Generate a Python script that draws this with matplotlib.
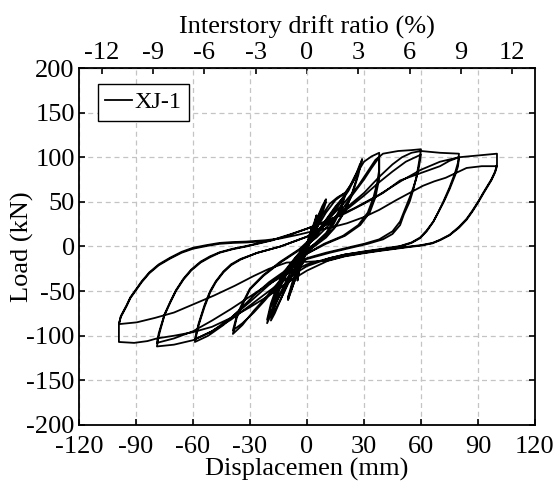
import numpy as np
import matplotlib
matplotlib.use("Agg")
import matplotlib.pyplot as plt

# small cycles (about 2.5, 5, 10, 20 mm)
small_disp = [0, 1, 2, 2.5, 2, 1, 0, -1, -2, -2.5, -2, -1, 0, 1, 2, 2.5, 2, 1, 0, -1, -2.5, -2, -1, 0,
              2, 4, 5, 4, 2, 0, -2, -4, -5, -4, -2, 0, 2, 4, 5, 4, 2, 0, -2, -4, -5, -4, -2, 0,
              3, 6, 8, 10, 8, 5, 2, 0, -3, -6, -8, -10, -8, -5, -2, 0,
              3, 6, 8, 10, 8, 5, 2, 0, -3, -6, -8, -10, -8, -5, -2, 0,
              4, 8, 12, 16, 20, 18, 14, 10, 5, 0, -5, -10, -14, -17, -19, -17, -14, -10, -5, 0,
              5, 10, 15, 20, 18, 14, 10, 5, 0, -5, -10, -14, -17, -19, -17, -14, -10, -5, 0]
small_load = [0, 9, 16, 22, 14, 5, -3, -9, -15, -20, -13, -5, 3, 10, 16, 20, 13, 4, -4, -10, -19, -12, -4, 2,
              16, 28, 35, 24, 10, -2, -12, -26, -38, -26, -12, 0, 12, 26, 33, 22, 8, -4, -14, -27, -36, -24, -10, 2,
              18, 35, 45, 53, 40, 22, 8, 0, -15, -35, -48, -60, -45, -25, -8, 3,
              17, 33, 43, 50, 37, 20, 6, -2, -17, -36, -47, -57, -42, -22, -6, 4,
              20, 35, 48, 55, 60, 45, 28, 15, 5, -5, -20, -40, -60, -75, -83, -65, -45, -28, -12, 2,
              15, 30, 45, 57, 42, 25, 13, 3, -6, -22, -42, -60, -72, -78, -60, -40, -24, -10, 3]

# 30 mm cycles
c30_disp = [6, 12, 18, 22, 25, 28, 29, 27, 24, 20, 15, 10, 5, 0, -5, -10, -15, -18, -21, -19, -16, -12, -7, 0,
            6, 12, 18, 22, 25, 28, 26, 23, 19, 14, 8, 2, -4, -9, -14, -18, -21, -19, -16, -12, -6, 0]
c30_load = [18, 35, 52, 65, 78, 90, 98, 80, 60, 40, 22, 10, 2, -6, -20, -38, -58, -72, -86, -68, -50, -32, -16, 0,
            15, 32, 50, 63, 76, 93, 75, 55, 37, 20, 8, 0, -12, -30, -52, -70, -82, -64, -46, -28, -12, 2]

# 40 mm cycles
c40_disp = [5, 10, 15, 20, 24, 28, 30, 34, 38, 38, 38, 36, 33, 28, 20, 10, 0, -8, -15, -22, -28, -34, -39,
            -37, -35, -30, -23, -14, -4,
            5, 12, 18, 24, 30, 34, 38, 38, 37, 35, 32, 27, 19, 9, 0, -8, -15, -22, -28, -34, -39,
            -37, -35, -30, -23, -14, -4]
c40_load = [20, 38, 52, 60, 72, 88, 95, 101, 105, 90, 76, 55, 38, 24, 12, 3, -8, -22, -40, -58, -72, -88, -98,
            -80, -70, -48, -33, -18, -4,
            10, 25, 40, 58, 75, 88, 100, 86, 72, 55, 38, 24, 12, 3, -8, -24, -42, -60, -74, -86, -94,
            -78, -68, -47, -32, -17, -3]

# 60 mm cycles
c60_disp = [5, 12, 20, 27, 32, 36, 40, 48, 55, 60,
            59, 57.7, 56, 54, 51, 49, 45, 40, 32, 22, 12, 0, -10, -20, -28, -36, -44, -52, -59,
            -58, -57, -54, -51, -48, -44, -40, -35, -26.5, -14, 0,
            10, 20, 30, 38, 45, 52, 60,
            59, 57.5, 55, 52, 49, 45, 38, 30, 20, 10, 0, -10, -20, -30, -40, -50, -59,
            -58, -57, -54, -51, -48, -44, -40, -35, -26, -14, 0]
c60_load = [15, 32, 50, 68, 84, 97, 104, 107, 108, 109,
            95, 79, 64, 50, 36, 24, 14, 8, 3, -2, -7, -14, -25, -40, -55, -72, -88, -100, -107,
            -97, -88, -68, -51.5, -40, -29, -21, -14.7, -7.3, 0, 11,
            24, 40, 57, 72, 84, 95, 103,
            90, 76, 60, 44, 28, 17, 8, 3, -2, -7, -13, -26, -43, -62, -80, -95, -104,
            -95, -86, -66, -50, -39, -28, -20, -14, -7, 0, 11]

# 80 mm cycles
c80_disp = [10, 20, 30, 38, 45, 50, 55, 60, 70, 80,
            79.6, 78, 75, 71.7, 69, 66.5, 63, 59.5, 55, 49, 40, 30, 20, 12, 0, -10, -20, -30, -40, -50, -60, -70, -79,
            -78, -77, -75, -72, -69, -65, -61, -56, -51, -46, -39, -32, -25, -18, -9, 0, 12, 25, 38, 50, 60, 70, 80,
            79.5, 78, 75, 72, 69, 66.5, 63, 59.5, 55, 49, 40, 30, 20, 12, 0, -10, -20, -30, -40, -50, -60, -70, -79,
            -78, -77, -75, -72, -69, -65, -61, -56, -51, -46, -39, -32, -25, -18, -9, 0]
c80_load = [25, 42, 60, 78, 92, 100, 105, 107, 105, 104,
            95, 83, 66, 50, 38, 27.7, 17, 9.3, 4, 0, -3, -6, -9, -13, -22, -35, -50, -66, -82, -95, -105, -110, -112,
            -100, -92, -77, -63, -50, -37, -27, -18, -12, -7, -3, 0, 3.5, 7, 13, 20, 30, 43, 58, 74, 86, 95, 100,
            90, 80, 64, 50, 38, 28, 18, 10, 4.5, 0.5, -2.5, -5.5, -9, -13, -20, -30, -42, -56, -70, -83, -95, -103, -108,
            -97, -90, -76, -62, -49, -36, -26, -17, -11, -6.5, -2.5, 0.5, 4, 7.5, 13.5, 20]

# 100 mm cycles
c100_disp = [10, 20, 30, 40, 49, 59.5, 70, 75, 80, 90, 100, 100,
             99, 97, 95, 93, 90, 87, 84, 80, 75, 70, 66, 60, 54, 47, 38, 30, 20, 12, 5, 0,
             -10, -20, -30, -40, -50, -60, -70, -79, -84, -91, -99, -99,
             -98, -96, -95, -93, -90, -87, -83, -78, -72, -66, -60, -53, -46, -39, -32, -22, -14, -5,
             3, 12, 21, 30, 38, 47, 54, 61, 67, 73, 79, 84, 92, 100,
             99, 97, 95, 93, 90, 87, 84, 80, 75, 70, 66, 60, 54, 47, 38, 30, 20, 12, 2, -10.7,
             -20, -28, -38, -49, -60, -70, -80, -89.6, -99,
             -98, -96, -95, -93, -90, -87, -83, -78, -72, -66, -60, -53, -46, -39, -32, -22]
c100_load = [28, 37, 48, 60, 74, 82, 90, 96, 100, 102, 104, 92,
             84, 75, 68, 61, 50, 40, 31, 22, 13, 7.5, 4, 1.5, 0, -2, -4.5, -7, -10.5, -15, -22, -27,
             -40, -55, -68, -80, -90, -96, -100, -103, -106, -108, -107, -87,
             -78, -70, -66, -57, -48, -39, -29, -20, -12.5, -6, -1.4, 1.5, 4, 5, 5.5, 7, 9, 13,
             17, 21, 26, 33, 41, 52, 60, 68, 73, 77, 83, 88, 90, 90,
             83, 74, 67, 60, 49, 39, 30, 21, 12.5, 7, 3.5, 1, -0.5, -2.5, -5, -7.5, -11, -15.5, -17, -18,
             -25, -33, -44, -55, -65, -74, -80, -85, -87,
             -79, -71, -67, -58, -49, -40, -30, -21, -13.5, -7, -2.5, 0.5, 3, 4, 4.5, 6]

disp = np.concatenate([small_disp, c30_disp, c40_disp, c60_disp, c80_disp, c100_disp])
load = np.concatenate([small_load, c30_load, c40_load, c60_load, c80_load, c100_load])

plt.rcParams['font.family'] = ['Liberation Serif', 'DejaVu Serif']
plt.rcParams['font.size'] = 19
plt.rcParams['axes.unicode_minus'] = False

fig = plt.figure(figsize=(5.56, 4.9), dpi=100)
ax = fig.add_axes([0.1421, 0.1327, 0.8201, 0.7285])

ax.plot(disp, load, color='black', lw=1.3, label='XJ-1')

ax.set_xlim(-120, 120)
ax.set_ylim(-200, 200)
ax.set_xticks(np.arange(-120, 121, 30))
ax.set_yticks(np.arange(-200, 201, 50))
ax.grid(True, ls=(0, (4, 3)), color='#c4c4c4', lw=0.9)
ax.tick_params(direction='in', right=True, length=4, width=1.2)
ax.tick_params(axis='x', pad=8)
ax.tick_params(axis='y', pad=3)
for s in ax.spines.values():
    s.set_linewidth(1.3)

ax.set_xlabel('Displacemen (mm)', labelpad=0)
ax.set_ylabel('Load (kN)')
ax.yaxis.set_label_coords(-0.098, 0.5)

# top axis: drift ratio
sec = ax.secondary_xaxis('top', functions=(lambda x: x / 9, lambda x: x * 9))
sec.set_xticks(np.arange(-12, 13, 3))
sec.tick_params(direction='in', length=4, width=1.2, pad=3)
sec.set_xlabel('Interstory drift ratio (%)', labelpad=6)

leg = ax.legend(loc='upper left', bbox_to_anchor=(0.042, 0.955), borderaxespad=0,
                fancybox=False, edgecolor='black', framealpha=1, handlelength=1.1,
                handletextpad=0.1, borderpad=0.3, fontsize=17.5)
leg.get_frame().set_linewidth(1.0)

fig.savefig('out.png', dpi=100)
